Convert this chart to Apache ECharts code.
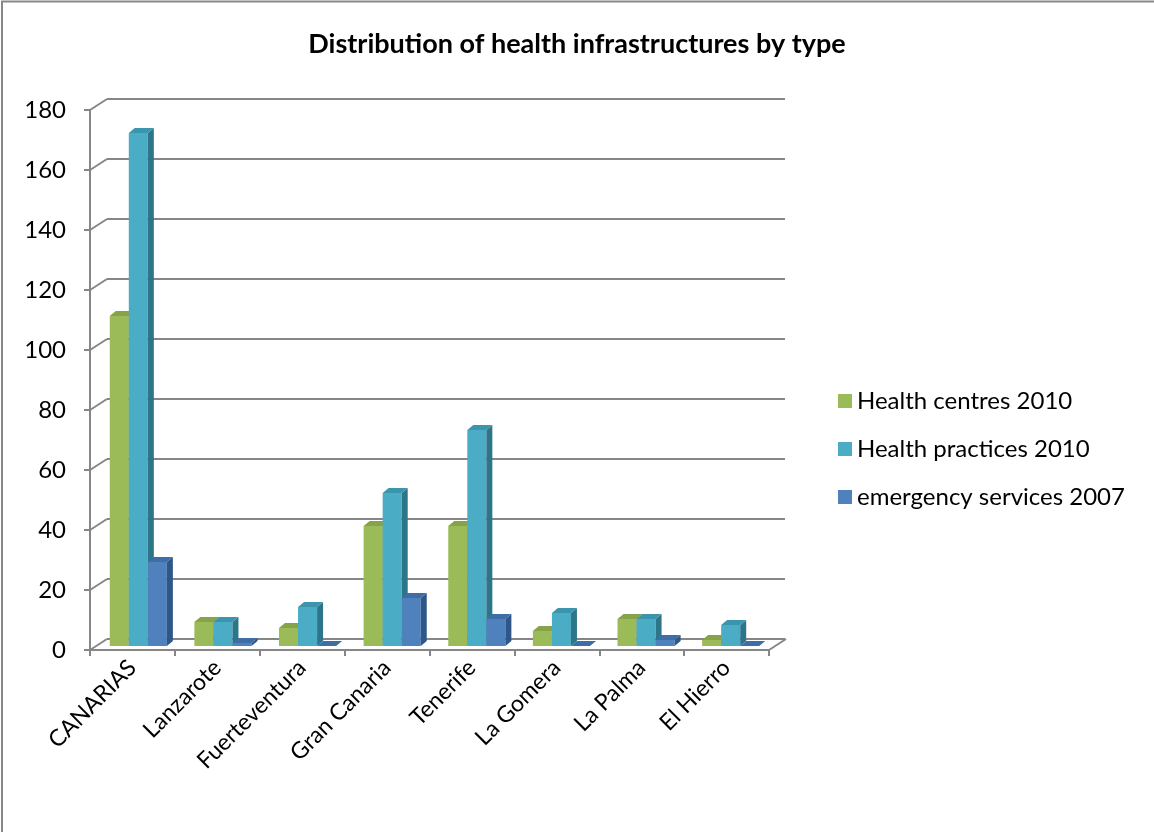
<!DOCTYPE html>
<html>
<head>
<meta charset="utf-8">
<script src="https://cdn.jsdelivr.net/npm/echarts@6/dist/echarts.min.js"></script>
<style>
  html, body { margin: 0; padding: 0; background: #fff; }
  #chart { width: 1154px; height: 832px; }
</style>
</head>
<body>
<div id="chart"></div>
<script>
(function() {
  var categories = ['CANARIAS', 'Lanzarote', 'Fuerteventura', 'Gran Canaria', 'Tenerife', 'La Gomera', 'La Palma', 'El Hierro'];
  var seriesNames = ['Health centres 2010', 'Health practices 2010', 'emergency services 2007'];
  var healthCentres = [110, 8, 6, 40, 40, 5, 9, 2];
  var healthPractices = [171, 8, 13, 51, 72, 11, 9, 7];
  var emergencyServices = [28, 1, 0, 16, 9, 0, 2, 0];
  var yTicks = [0, 20, 40, 60, 80, 100, 120, 140, 160, 180];

  var font = 'Lato, "Open Sans", sans-serif';
  var axisGrey = '#868686';
  // front, top, side shades per series
  var shades = [
    { front: '#9bbb59', top: '#86a34a', side: '#6f8a3a' },
    { front: '#4bacc6', top: '#3b95ad', side: '#2d7689' },
    { front: '#4f81bd', top: '#3f6da6', side: '#2e5688' }
  ];
  var depthX = 6, depthY = 5;

  function barRenderer(idx) {
    var sh = shades[idx];
    return function(params, api) {
      var cat = api.value(0);
      var val = api.value(1);
      var band = api.size([1, 0])[0];
      var w = band * 0.225;
      var base = api.coord([cat, 0]);
      var top = api.coord([cat, val]);
      var x0 = base[0] + (idx - 1.5) * w;
      var x1 = x0 + w;
      var yb = base[1];
      var yt = top[1];
      return {
        type: 'group',
        children: [
          { type: 'rect', shape: { x: x0, y: yt, width: w, height: yb - yt }, style: { fill: sh.front } },
          { type: 'polygon', shape: { points: [[x1, yt], [x1 + depthX, yt - depthY], [x1 + depthX, yb - depthY], [x1, yb]] }, style: { fill: sh.side } },
          { type: 'polygon', shape: { points: [[x0, yt], [x0 + depthX, yt - depthY], [x1 + depthX, yt - depthY], [x1, yt]] }, style: { fill: sh.top } }
        ]
      };
    };
  }

  function wallTicks(params, api) {
    var cs = params.coordSys;
    var y = api.coord([0, api.value(0)])[1];
    return {
      type: 'line',
      shape: { x1: cs.x, y1: y, x2: cs.x + 17, y2: y - 11 },
      style: { stroke: axisGrey, lineWidth: 2 }
    };
  }

  function floorEdge(params, api) {
    var cs = params.coordSys;
    var x = cs.x + cs.width;
    var y = cs.y + cs.height;
    return {
      type: 'line',
      shape: { x1: x, y1: y, x2: x + 17, y2: y - 11 },
      style: { stroke: axisGrey, lineWidth: 2 }
    };
  }

  var seriesData = [healthCentres, healthPractices, emergencyServices];

  var series = [
    { type: 'custom', xAxisIndex: 0, yAxisIndex: 0, renderItem: wallTicks, data: yTicks.map(function(v) { return [v]; }), silent: true, z: 1 },
    { type: 'custom', xAxisIndex: 0, yAxisIndex: 0, renderItem: floorEdge, data: [[0]], silent: true, z: 1 }
  ];
  seriesData.forEach(function(arr, i) {
    series.push({
      name: seriesNames[i],
      type: 'custom',
      xAxisIndex: 2,
      yAxisIndex: 2,
      renderItem: barRenderer(i),
      itemStyle: { color: shades[i].front },
      data: arr.map(function(v, j) { return [j, v]; }),
      z: 5
    });
  });

  var chart = echarts.init(document.getElementById('chart'), null, { renderer: 'canvas' });
  chart.setOption({
    animation: false,
    backgroundColor: '#fff',
    color: [shades[0].front, shades[1].front, shades[2].front],
    title: {
      text: 'Distribution of health infrastructures by type',
      left: 'center',
      top: 26,
      textStyle: { fontFamily: font, fontSize: 27, fontWeight: 'bold', color: '#000' }
    },
    legend: {
      data: seriesNames,
      orient: 'vertical',
      left: 833,
      top: 384,
      icon: 'rect',
      itemWidth: 14,
      itemHeight: 14,
      itemGap: 24,
      textStyle: { fontFamily: font, fontSize: 24, color: '#000' }
    },
    graphic: [
      { type: 'polyline', shape: { points: [[2, 832], [2, 1.5], [1154, 1.5]] }, style: { fill: 'none', stroke: '#888888', lineWidth: 2 }, silent: true }
    ],
    grid: [
      { left: 90, width: 679, top: 110, height: 540 },
      { left: 107, width: 678, top: 99, height: 540 },
      { left: 96, width: 677, top: 106, height: 540 }
    ],
    xAxis: [
      {
        gridIndex: 0,
        type: 'category',
        data: categories,
        boundaryGap: true,
        axisLine: { lineStyle: { color: axisGrey, width: 2 } },
        axisTick: { show: true, length: 6, lineStyle: { color: axisGrey, width: 2 } },
        axisLabel: { rotate: 45, fontFamily: font, fontSize: 23, color: '#000', margin: 14, interval: 0 }
      },
      {
        gridIndex: 1,
        type: 'category',
        data: categories,
        axisLine: { show: false },
        axisTick: { show: false },
        axisLabel: { show: false }
      },
      {
        gridIndex: 2,
        type: 'category',
        data: categories,
        axisLine: { show: false },
        axisTick: { show: false },
        axisLabel: { show: false }
      }
    ],
    yAxis: [
      {
        gridIndex: 0,
        type: 'value',
        min: 0,
        max: 180,
        interval: 20,
        axisLine: { show: true, lineStyle: { color: axisGrey, width: 2 } },
        axisTick: { show: true, length: 6, lineStyle: { color: axisGrey, width: 2 } },
        splitLine: { show: false },
        axisLabel: { fontFamily: font, fontSize: 24, color: '#000', margin: 24 }
      },
      {
        gridIndex: 1,
        type: 'value',
        min: 0,
        max: 180,
        interval: 20,
        axisLine: { show: false },
        axisTick: { show: false },
        axisLabel: { show: false },
        splitLine: { show: true, lineStyle: { color: axisGrey, width: 2 } }
      },
      {
        gridIndex: 2,
        type: 'value',
        min: 0,
        max: 180,
        interval: 20,
        axisLine: { show: false },
        axisTick: { show: false },
        axisLabel: { show: false },
        splitLine: { show: false }
      }
    ],
    series: series
  });

  window.addEventListener('resize', function() {
    chart.resize();
  });
})();
</script>
</body>
</html>
